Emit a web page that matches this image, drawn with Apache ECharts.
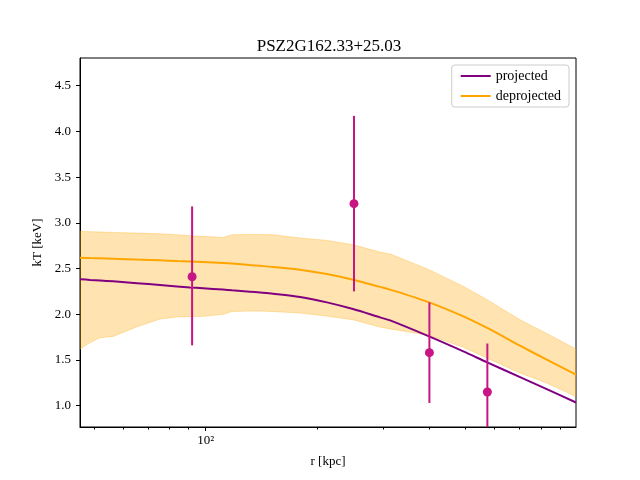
<!DOCTYPE html>
<html>
<head>
<meta charset="utf-8">
<script src="https://cdn.jsdelivr.net/npm/echarts@6/dist/echarts.min.js"></script>
<style>
html, body { margin: 0; padding: 0; background: #fff; }
#chart { width: 640px; height: 480px; }
</style>
</head>
<body>
<div id="chart"></div>
<script>
// model curves, r in kpc
var radius = [45.85, 48.8, 51.9, 56.3, 65.3, 75.3, 83.7, 90.7, 98.3, 111.3, 117.7, 131.6, 140, 151.8, 179.5, 212.1, 249.2, 294.9, 313.9, 399.6, 494.3, 573, 702.6, 829, 994];
var projT = [2.383, 2.376, 2.37, 2.36, 2.34, 2.32, 2.305, 2.294, 2.285, 2.27, 2.262, 2.247, 2.238, 2.225, 2.189, 2.13, 2.057, 1.966, 1.933, 1.758, 1.594, 1.474, 1.313, 1.181, 1.035];
var deprojT = [2.619, 2.615, 2.612, 2.607, 2.598, 2.59, 2.583, 2.578, 2.572, 2.562, 2.556, 2.539, 2.53, 2.518, 2.488, 2.44, 2.378, 2.3, 2.27, 2.13, 1.977, 1.85, 1.656, 1.503, 1.34];
var deprojLow = [1.62, 1.69, 1.744, 1.758, 1.864, 1.948, 1.97, 1.975, 1.977, 2.0, 2.03, 2.035, 2.035, 2.03, 2.013, 1.98, 1.94, 1.86, 1.84, 1.77, 1.64, 1.52, 1.357, 1.248, 1.10];
var deprojHigh = [2.906, 2.903, 2.9, 2.895, 2.888, 2.88, 2.87, 2.859, 2.852, 2.84, 2.87, 2.872, 2.872, 2.87, 2.834, 2.808, 2.761, 2.68, 2.66, 2.488, 2.305, 2.16, 1.94, 1.79, 1.62];

// measured temperatures
var obsR = [91.9, 250.8, 400.4, 573.6];
var obsT = [2.41, 3.21, 1.58, 1.15];
var obsLow = [1.66, 2.25, 1.03, 0.62];
var obsHigh = [3.18, 4.17, 2.13, 1.68];

var yTicks = [1.0, 1.5, 2.0, 2.5, 3.0, 3.5, 4.0, 4.5];
var xMinorTicks = [50, 60, 70, 80, 90, 200, 300, 400, 500, 600, 700, 800, 900];
var xMajorTicks = [100];

var font = 'Liberation Serif';

var bandData = [], projData = [], deprojData = [], obsData = [];
for (var i = 0; i < radius.length; i++) {
	bandData.push([radius[i], deprojLow[i], deprojHigh[i]]);
	projData.push([radius[i], projT[i]]);
	deprojData.push([radius[i], deprojT[i]]);
}
for (var j = 0; j < obsR.length; j++) {
	obsData.push([obsR[j], obsT[j], obsLow[j], obsHigh[j]]);
}

// whole band drawn once, as one polygon
function renderBand(params, api) {
	if (params.dataIndex !== 0) return;
	var upper = [], lower = [];
	for (var k = 0; k < bandData.length; k++) {
		upper.push(api.coord([bandData[k][0], bandData[k][2]]));
		lower.push(api.coord([bandData[k][0], bandData[k][1]]));
	}
	var poly = upper.concat(lower.slice().reverse());
	return {
		type: 'group',
		children: [{
			type: 'polygon',
			shape: { points: poly },
			style: { fill: 'rgba(255,165,0,0.3)', stroke: 'rgba(255,165,0,0.3)', lineWidth: 1 }
		}]
	};
}

var chart = echarts.init(document.getElementById('chart'));
var option = {
	animation: false,
	backgroundColor: '#fff',
	title: {
		text: 'PSZ2G162.33+25.03',
		left: 324,
		textAlign: 'center',
		top: 33,
		textStyle: { fontFamily: font, fontSize: 17, fontWeight: 'normal', color: '#000' }
	},
	legend: {
		right: 71,
		top: 65,
		orient: 'vertical',
		data: ['projected', 'deprojected'],
		icon: 'rect',
		itemWidth: 30,
		itemHeight: 2,
		itemGap: 6,
		padding: [4, 8, 4, 9],
		backgroundColor: '#fff',
		borderColor: '#cccccc',
		borderWidth: 1,
		borderRadius: 3,
		textStyle: { fontFamily: font, fontSize: 14, color: '#000' }
	},
	grid: {
		left: 80, right: 64, top: 58, bottom: 53,
		show: true, borderColor: '#000', borderWidth: 1
	},
	xAxis: [{
		type: 'log',
		logBase: 10,
		min: 45.85,
		max: 994,
		position: 'bottom',
		name: 'r [kpc]',
		nameLocation: 'middle',
		nameGap: 28,
		nameTextStyle: { fontFamily: font, fontSize: 13, color: '#000' },
		axisLine: { show: true, lineStyle: { color: '#000', width: 1 } },
		axisTick: { show: true, length: 2.5, customValues: xMinorTicks, lineStyle: { color: '#000' } },
		axisLabel: { show: false },
		splitLine: { show: false },
		minorTick: { show: false }
	}, {
		type: 'log',
		logBase: 10,
		min: 45.85,
		max: 994,
		position: 'bottom',
		axisLine: { show: false },
		axisTick: { show: true, length: 4, customValues: xMajorTicks, lineStyle: { color: '#000' } },
		axisLabel: {
			show: true, customValues: xMajorTicks, margin: 7,
			fontFamily: font, fontSize: 13, color: '#000',
			formatter: function () { return '10²'; }
		},
		splitLine: { show: false }
	}],
	yAxis: {
		type: 'value',
		min: 0.767,
		max: 4.803,
		name: 'kT [keV]',
		nameLocation: 'middle',
		nameGap: 36,
		nameTextStyle: { fontFamily: font, fontSize: 13, color: '#000' },
		axisLine: { show: true, lineStyle: { color: '#000', width: 1 } },
		axisTick: { show: true, length: 4, customValues: yTicks, lineStyle: { color: '#000' } },
		axisLabel: {
			customValues: yTicks, margin: 9,
			fontFamily: font, fontSize: 13, color: '#000',
			formatter: function (v) { return v.toFixed(1); }
		},
		splitLine: { show: false }
	},
	series: [{
		name: 'band',
		type: 'custom',
		data: bandData,
		clip: true,
		encode: { x: 0, y: [1, 2] },
		renderItem: renderBand,
		silent: true,
		z: 1
	}, {
		name: 'projected',
		type: 'line',
		data: projData,
		symbol: 'none',
		smooth: 0.3,
		color: '#800080',
		lineStyle: { color: '#800080', width: 2 },
		z: 2
	}, {
		name: 'deprojected',
		type: 'line',
		data: deprojData,
		symbol: 'none',
		smooth: 0.3,
		color: '#FFA500',
		lineStyle: { color: '#FFA500', width: 2 },
		z: 2
	}, {
		name: 'errors',
		type: 'custom',
		data: obsData,
		clip: true,
		encode: { x: 0, y: [2, 3] },
		renderItem: function (params, api) {
			var top = api.coord([api.value(0), api.value(3)]);
			var bottom = api.coord([api.value(0), api.value(2)]);
			return {
				type: 'line',
				shape: { x1: top[0], y1: top[1], x2: bottom[0], y2: bottom[1] },
				style: { stroke: '#C71585', lineWidth: 2 }
			};
		},
		z: 3
	}, {
		name: 'points',
		type: 'scatter',
		data: obsData,
		encode: { x: 0, y: 1 },
		symbolSize: 9,
		itemStyle: { color: '#C71585', opacity: 1 },
		z: 4
	}]
};
chart.setOption(option);
</script>
</body>
</html>
